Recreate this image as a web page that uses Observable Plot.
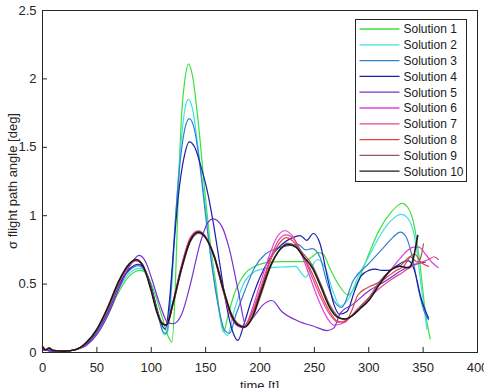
<!DOCTYPE html>
<html>
<head>
<meta charset="utf-8">
<script src="https://cdn.jsdelivr.net/npm/d3@7"></script>
<script src="https://cdn.jsdelivr.net/npm/@observablehq/plot@0.6"></script>
<style>
  html, body { margin: 0; padding: 0; background: #fff; }
  #chart { position: relative; width: 484px; height: 388px; overflow: hidden; }
  svg { font-family: "Liberation Sans", Arial, Helvetica, sans-serif; }
</style>
</head>
<body>
<div id="chart"></div>
<script>
const seriesNames = ["Solution 1","Solution 2","Solution 3","Solution 4","Solution 5","Solution 6","Solution 7","Solution 8","Solution 9","Solution 10"];
const seriesColors = ["#3ee03e","#40e0e0","#2f80d0","#1c1ca8","#7a30d0","#e040e0","#e0488e","#e04545","#9a5a5a","#1a1a1a"];
const xTicks = [0,50,100,150,200,250,300,350,400];
const yTicks = [0,0.5,1,1.5,2,2.5];
const xLabel = "time [t]";
const yLabel = "σ flight path angle [deg]";

const sol1T = [0,10,20,30,40,50,60,70,80,90,96,102,110,116,119,122,125,128,131,134.3,138,143,149,155,160,163.5,166.5,170,176,186,195,205,220,240,248,253,258,264,272,281,290,300,310,320,326,330.5,336,342,347,352,356.5];
const sol1V = [0.02,0.01,0.008,0.02,0.055,0.14,0.27,0.44,0.56,0.6,0.57,0.46,0.26,0.11,0.075,0.45,1.2,1.75,2.0,2.11,2.02,1.7,1.2,0.75,0.47,0.25,0.15,0.25,0.42,0.575,0.63,0.655,0.665,0.665,0.7,0.73,0.72,0.62,0.5,0.42,0.52,0.72,0.9,1.02,1.07,1.09,1.06,0.92,0.65,0.3,0.1];

const sol2T = [0,10,20,30,40,50,60,70,80,89,95,101,108,112,115,119,123,127,131,134,138,143,149,155,160,165,170,176,186,195,205,220,233,238,242,247,253,260,267,274,282,290,300,310,320,326,330,336,342,348,353.5];
const sol2V = [0.02,0.01,0.008,0.02,0.055,0.145,0.28,0.46,0.58,0.615,0.58,0.45,0.22,0.13,0.15,0.5,1.05,1.5,1.78,1.85,1.78,1.5,1.12,0.7,0.42,0.2,0.124,0.3,0.52,0.59,0.615,0.625,0.63,0.58,0.55,0.62,0.68,0.62,0.45,0.34,0.4,0.55,0.7,0.85,0.96,1.0,1.01,0.98,0.85,0.5,0.17];

const sol3T = [0,10,20,30,40,50,60,70,80,88,94,100,107,111,114,118,122,126,130,135,140,145,150,156,162,167,172,178,186,195,205,215,225,235,242,248,255,262,268,275,286,300,314,322,329,334,340,346,351,355];
const sol3V = [0.02,0.01,0.008,0.02,0.06,0.15,0.29,0.48,0.6,0.635,0.6,0.47,0.25,0.15,0.14,0.45,0.95,1.35,1.6,1.71,1.62,1.35,1.0,0.62,0.33,0.17,0.14,0.28,0.45,0.62,0.72,0.76,0.78,0.79,0.75,0.76,0.7,0.5,0.38,0.33,0.53,0.65,0.77,0.84,0.88,0.85,0.7,0.45,0.3,0.24];

const sol4T = [0,10,20,30,40,50,60,70,80,88,94,100,106,110,113,117,121,125,130,135,140,146,151,157,163,169,175,179.6,185,192,200,210,220,230,237,243,249,255,262,268,273,280,287,293,300,306,312,318,325,331,336.5,342,348,355];
const sol4V = [0.02,0.01,0.008,0.02,0.06,0.155,0.3,0.49,0.61,0.645,0.61,0.48,0.3,0.2,0.17,0.4,0.8,1.15,1.42,1.54,1.5,1.35,1.2,0.95,0.65,0.35,0.15,0.088,0.2,0.38,0.55,0.7,0.79,0.84,0.855,0.82,0.87,0.8,0.55,0.35,0.28,0.3,0.45,0.56,0.6,0.61,0.6,0.6,0.63,0.66,0.67,0.6,0.4,0.25];

const sol5T = [0,10,20,30,40,50,60,70,80,89,95,100,108,115,120,128,136,145,152,157,165,172,180,187,195,203,211,220,235,250,262,268,274,285,300,315,330,345,352];
const sol5V = [0.02,0.01,0.008,0.02,0.05,0.13,0.27,0.46,0.63,0.71,0.66,0.55,0.35,0.22,0.21,0.28,0.5,0.8,0.95,0.977,0.92,0.75,0.45,0.2,0.27,0.35,0.38,0.3,0.23,0.19,0.16,0.18,0.29,0.35,0.45,0.52,0.6,0.65,0.66];

const sol6T = [0,3,6,10,20,30,40,50,60,70,80,86,92,100,105,110,114,120,128,136,143,150,158,166,174,180,185,192,200,210,216,223,230,238,246,254,262,268,275,282,290,298,305,313,320,328,335,341,346,352,358,364];
const sol6V = [0.04,0.02,0.03,0.015,0.01,0.02,0.065,0.16,0.31,0.5,0.64,0.67,0.64,0.46,0.31,0.21,0.2,0.37,0.64,0.84,0.88,0.84,0.69,0.45,0.25,0.19,0.18,0.3,0.5,0.74,0.85,0.89,0.85,0.72,0.55,0.38,0.25,0.2,0.21,0.25,0.31,0.37,0.45,0.53,0.6,0.68,0.74,0.77,0.77,0.72,0.66,0.62];

const sol7T = [0,3,6,10,20,30,40,50,60,70,80,86,92,100,105,110,114,120,128,136,143,150,158,166,174,180,185,192,200,210,217,224,232,240,248,256,264,272,280,290,300,310,320,330,340,348,355,360,364];
const sol7V = [0.05,0.02,0.035,0.015,0.01,0.02,0.066,0.16,0.31,0.5,0.64,0.675,0.64,0.46,0.31,0.21,0.2,0.37,0.64,0.84,0.89,0.85,0.7,0.46,0.26,0.2,0.19,0.28,0.46,0.7,0.82,0.86,0.82,0.7,0.55,0.4,0.28,0.22,0.24,0.32,0.4,0.47,0.53,0.58,0.63,0.66,0.68,0.7,0.68];

const sol8T = [0,3,6,10,20,30,40,50,60,70,80,86,92,100,105,110,114,120,128,136,143,150,158,166,174,180,185,192,200,210,217,224,232,240,248,256,264,271,278,284,290,298,306,315,325,332,338,342,348,355];
const sol8V = [0.05,0.02,0.035,0.015,0.01,0.02,0.068,0.165,0.32,0.51,0.645,0.675,0.64,0.46,0.31,0.21,0.2,0.36,0.63,0.83,0.88,0.84,0.7,0.46,0.26,0.2,0.19,0.27,0.44,0.68,0.79,0.84,0.8,0.7,0.58,0.43,0.3,0.23,0.22,0.3,0.42,0.47,0.5,0.54,0.6,0.63,0.7,0.72,0.66,0.63];

const sol9T = [0,3,6,10,20,30,40,50,60,70,80,86,92,100,105,110,114,120,128,136,143.5,150,158,166,174,180,186,193,200,210,218,225,233,240,248,256,264,271,278,285,292,300,310,320,330,338,345,348,350.4];
const sol9V = [0.04,0.02,0.03,0.015,0.01,0.02,0.068,0.165,0.32,0.51,0.645,0.675,0.64,0.46,0.31,0.22,0.2,0.35,0.61,0.81,0.87,0.84,0.71,0.48,0.28,0.21,0.19,0.25,0.4,0.63,0.75,0.8,0.78,0.72,0.64,0.5,0.35,0.27,0.24,0.27,0.33,0.4,0.52,0.6,0.64,0.7,0.66,0.7,0.795];

const sol10T = [0,3,6,10,20,30,40,50,60,70,80,86,92,100,105,110,114,120,128,136,143.5,150,158,166,174,180,186,193,200,210,218,226,233,240,248,256,264,271,278,285,292,300,310,320,328,336.5,340,345];
const sol10V = [0.04,0.02,0.03,0.015,0.01,0.02,0.07,0.17,0.33,0.52,0.65,0.68,0.64,0.45,0.3,0.21,0.2,0.36,0.62,0.82,0.88,0.84,0.7,0.47,0.27,0.2,0.185,0.26,0.42,0.64,0.75,0.79,0.77,0.7,0.62,0.48,0.33,0.26,0.245,0.27,0.32,0.38,0.5,0.6,0.63,0.62,0.66,0.855];

const allT = [sol1T,sol2T,sol3T,sol4T,sol5T,sol6T,sol7T,sol8T,sol9T,sol10T];
const allV = [sol1V,sol2V,sol3V,sol4V,sol5V,sol6V,sol7V,sol8V,sol9V,sol10V];
const rows = [];
allT.forEach((ts, i) => ts.forEach((t, j) => rows.push({series: seriesNames[i], t, v: allV[i][j]})));

const W = 484, H = 388;
const plot = Plot.plot({
  width: W, height: H,
  marginLeft: 42, marginRight: 7, marginTop: 10, marginBottom: 36,
  style: {fontFamily: '"Liberation Sans", Arial, Helvetica, sans-serif', fontSize: "13px", color: "#262626", background: "#fff"},
  x: {domain: [0, 400], label: null},
  y: {domain: [0, 2.5], label: null},
  color: {domain: seriesNames, range: seriesColors},
  marks: [
    Plot.line(rows, {x: "t", y: "v", z: "series", stroke: "series", strokeWidth: d => d.series === "Solution 10" ? 1.6 : 1.2, curve: "monotone-x"}),
    Plot.frame({stroke: "#262626", strokeWidth: 1}),
    Plot.axisX({ticks: xTicks, tickSize: -5, tickPadding: 15, tickFormat: d => String(d), stroke: "#262626", fill: "#262626"}),
    Plot.axisY({ticks: yTicks, tickSize: -5, tickPadding: 11, tickFormat: d => String(d), stroke: "#262626", fill: "#262626"})
  ]
});
document.getElementById("chart").appendChild(plot);

const svg = d3.select(plot);
svg.append("text")
  .attr("x", 259.5).attr("y", 389.5)
  .attr("text-anchor", "middle")
  .attr("font-size", 13).attr("fill", "#262626")
  .text(xLabel);
svg.append("text")
  .attr("transform", "translate(16.5,181) rotate(-90)")
  .attr("text-anchor", "middle")
  .attr("font-size", 13).attr("fill", "#262626")
  .text(yLabel);

const lg = svg.append("g").attr("text-anchor", "start");
const lx = 355.5, ly = 19.5, lw = 111, lh = 162;
lg.append("rect").attr("x", lx).attr("y", ly).attr("width", lw).attr("height", lh)
  .attr("fill", "#fff").attr("stroke", "#262626").attr("stroke-width", 1);
seriesNames.forEach((name, i) => {
  const yy = 29 + i * 15.8;
  lg.append("line").attr("x1", 359.5).attr("x2", 399.5).attr("y1", yy).attr("y2", yy)
    .attr("stroke", seriesColors[i]).attr("stroke-width", 1.3);
  lg.append("text").attr("x", 403.5).attr("y", yy).attr("dy", "0.36em")
    .attr("text-anchor", "start")
    .attr("font-size", 12).attr("fill", "#1a1a1a").text(name);
});
</script>
</body>
</html>
